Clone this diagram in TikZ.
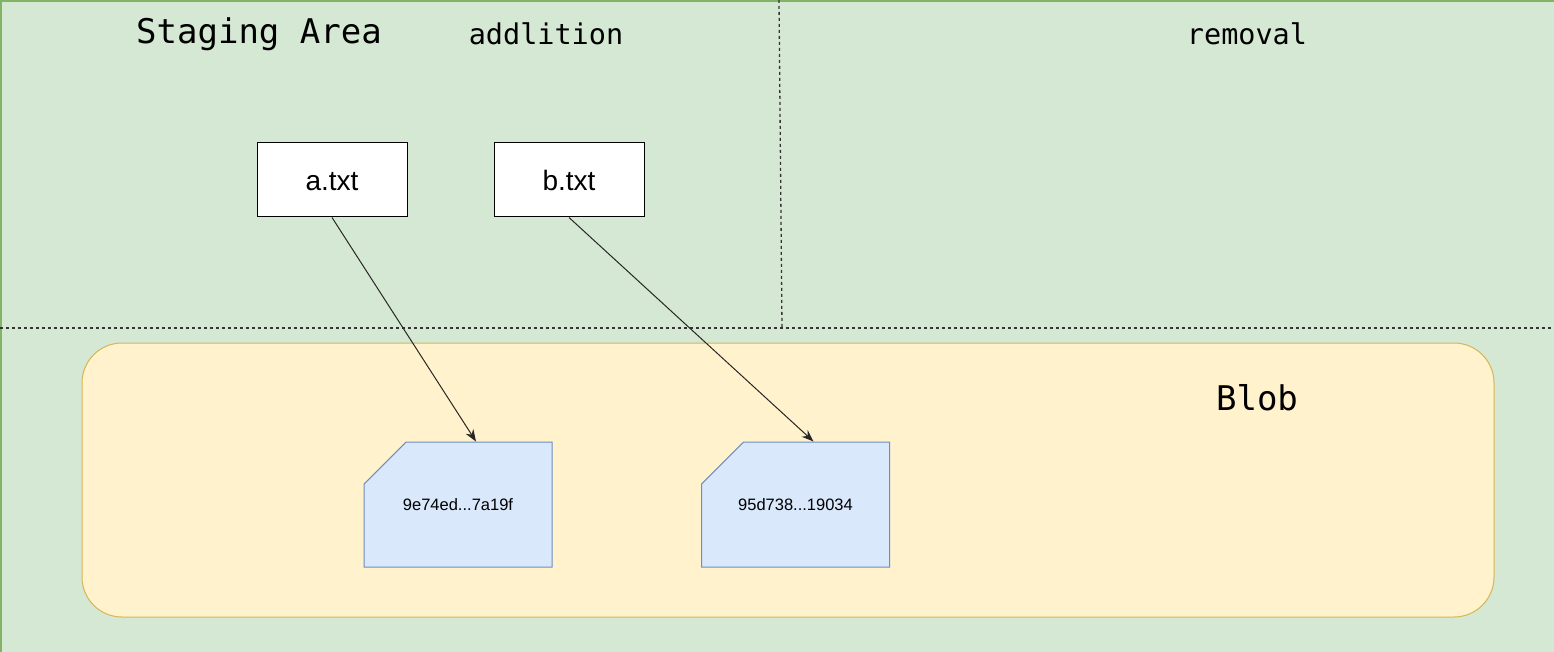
\documentclass[tikz,border=0pt]{standalone}
\usepackage{fontspec}
\setmainfont{Liberation Sans}
\setmonofont{DejaVu Sans Mono}
\usepackage{tikz}
\usetikzlibrary{arrows.meta,shapes.misc}
\definecolor{areagreen}{HTML}{D5E8D4}
\definecolor{areaedge}{HTML}{82B366}
\definecolor{blobfill}{HTML}{FFF2CC}
\definecolor{blobedge}{HTML}{D6B656}
\definecolor{cardfill}{HTML}{DAE8FC}
\definecolor{cardedge}{HTML}{6C8EBF}
\tikzstyle{title}=[font=\ttfamily\fontsize{34}{38}\selectfont]
\tikzstyle{part}=[font=\ttfamily\fontsize{28.5}{32}\selectfont]
\tikzstyle{entry}=[rectangle, draw, fill=white, line width=1pt, minimum width=150pt, minimum height=74pt, text height=21pt, text depth=0pt, font=\fontsize{28}{32}\selectfont]
\tikzstyle{card}=[chamfered rectangle, chamfered rectangle corners=north west, chamfered rectangle xsep=36pt, chamfered rectangle ysep=36pt, draw=cardedge, fill=cardfill, line width=1pt, minimum width=188pt, minimum height=125pt, inner sep=0pt, font=\fontsize{16.5}{19}\selectfont]
\tikzstyle{divide}=[black!80, line width=1.3pt, dash pattern=on 3pt off 3pt]
\tikzstyle{link}=[-{Stealth[length=12pt, width=9pt]}, line width=1pt, black!85]

\begin{document}
\begin{tikzpicture}[x=1pt, y=-1pt]
                \useasboundingbox (0, 0) rectangle (1554, 652);
                \clip (0, 0) rectangle (1554, 652);
                % staging area and blob store
                \draw[areaedge, fill=areagreen, line width=1.5pt] (1, 1) rectangle (1600, 700);
                \draw[blobedge, fill=blobfill, line width=1pt, rounded corners=40pt] (82, 343) rectangle (1494, 617);
                \draw[divide] (0, 328) -- (1554, 328);
                \draw[divide] (779, 0) -- (782, 328);
                \node[title] (stage)   at (259, 34)  {Staging Area};
                \node[part]  (add)     at (546, 34)  {addlition};
                \node[part]  (remove)  at (1247, 34) {removal};
                \node[title] (blob)    at (1257, 398) {Blob};
                \node[entry] (a) at (332, 180) {a.txt};
                \node[entry] (b) at (569, 180) {b.txt};
                \node[card]  (f1) at (458, 504.5) {9e74ed...7a19f};
                \node[card]  (f2) at (795.5, 504.5) {95d738...19034};
                \draw[link] (a.south) -- ([xshift=18pt]f1.north);
                \draw[link] (b.south) -- ([xshift=18pt]f2.north);
\end{tikzpicture}
\end{document}
